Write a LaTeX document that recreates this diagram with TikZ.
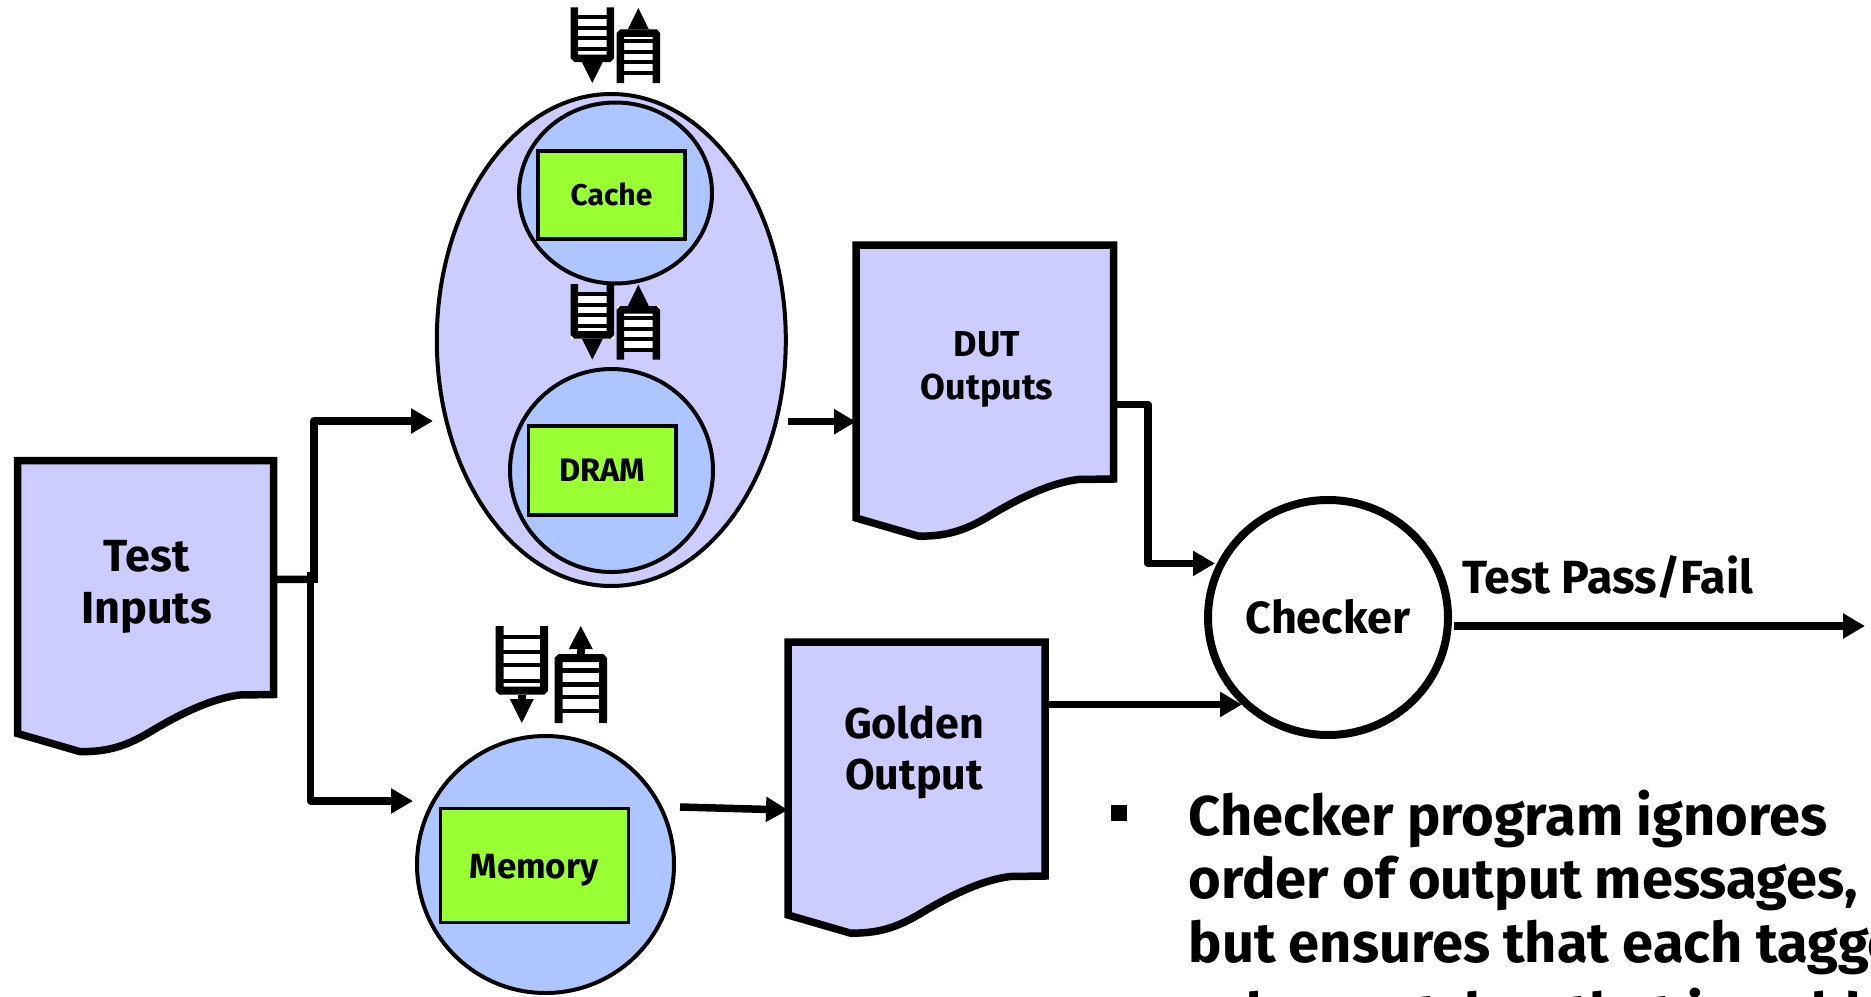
\documentclass[tikz,border=0pt]{standalone}
\usepackage{fontspec}
\setmainfont{Fira Sans}
\usetikzlibrary{shapes.geometric,arrows.meta}
\definecolor{docfill}{HTML}{CCCCFF}
\definecolor{circfill}{HTML}{ADC6FF}
\definecolor{boxfill}{HTML}{99FF33}
\tikzset{
  docline/.style={draw=black,fill=docfill,line width=7.5pt,line join=miter},
  docbox/.style={rectangle,draw=none,fill=none,anchor=north west,minimum width=257pt,minimum height=234pt,inner sep=0pt,outer sep=0pt},
  oval/.style={ellipse,draw=black,line width=4pt,inner sep=0pt,outer sep=0pt},
  unit/.style={rectangle,draw=black,fill=boxfill,line width=3.5pt,inner sep=0pt,outer sep=0pt},
  lab/.style={inner sep=0pt,outer sep=0pt,align=center,font=\bfseries\fontsize{#1}{#1}\selectfont},
  conn/.style={line width=7.5pt,line join=round,-{Triangle[length=22pt,width=24pt]}},
  plainconn/.style={line width=7.5pt,line join=round}
}
\newcommand\docshape[3]{%
  \begin{scope}[shift={(#1,#2)}]
    \draw[docline] (0,0) -- (#3,0) -- (#3,234) -- (222,234.5)
      .. controls (195,238) and (165,252) .. (135,270)
      .. controls (115,282) and (95,292) .. (62,291) -- (0,273) -- cycle;
  \end{scope}}
% #1 xl #2 xr #3 top #4 bot #5 tip #6 head base #7 rung list
\newcommand\qdown[7]{%
  \fill[white] (#1,#3+10) rectangle (#2,#4);
  \foreach \r in {#7} \draw[line width=\rungw pt] (#1,\r) -- (#2,\r);
  \draw[line width=\railw pt,rounded corners=1.5pt] (#1+\railw/2,#3) -- (#1+\railw/2,#4-\railw/2) -- (#2-\railw/2,#4-\railw/2) -- (#2-\railw/2,#3);
  \draw[line width=8pt] ({(#1+#2)/2},#4) -- ({(#1+#2)/2},#6+1);
  \fill ({(#1+#2)/2-\hw},#6) -- ({(#1+#2)/2+\hw},#6) -- ({(#1+#2)/2},#5) -- cycle;}
\newcommand\qup[7]{%
  \fill[white] (#1,#3) rectangle (#2,#4-10);
  \foreach \r in {#7} \draw[line width=\rungw pt] (#1,\r) -- (#2,\r);
  \draw[line width=\railw pt,rounded corners=1.5pt] (#1+\railw/2,#4) -- (#1+\railw/2,#3+\railw/2) -- (#2-\railw/2,#3+\railw/2) -- (#2-\railw/2,#4);
  \draw[line width=8pt] ({(#1+#2)/2},#3) -- ({(#1+#2)/2},#6-1);
  \fill ({(#1+#2)/2-\hw},#6) -- ({(#1+#2)/2+\hw},#6) -- ({(#1+#2)/2},#5) -- cycle;}
\begin{document}
\begin{tikzpicture}[x=1pt,y=-1pt]
\useasboundingbox (0,0) rectangle (1871,996);
\clip (0,0) rectangle (1871,996);
\fill[white] (0,0) rectangle (1871,996);
% documents
\docshape{17.5}{460.5}{256}
\docshape{856}{245}{257.5}
\docshape{788}{642}{257}
\node[docbox] (tin) at (17.5,460.5) {};
\node[docbox] (dut) at (856,245) {};
\node[docbox] (gold) at (788,642) {};
\node[lab=45] (tinlab) at (146.5,587) {Test\\[6.6pt]Inputs};
\node[lab=36] (dutlab) at (987,369.5) {DUT\\[6.6pt]Outputs};
\node[lab=43] (goldlab) at (914,752) {Golden\\[8pt]Output};
% cluster
\node[oval,fill=docfill,minimum width=349pt,minimum height=492pt] (cluster) at (611.3,340) {};
\node[oval,fill=circfill,minimum width=193pt,minimum height=181pt] (cachec) at (615.5,193) {};
\node[oval,fill=circfill,minimum width=203pt,minimum height=203pt] (dramc) at (611.5,470.5) {};
\node[oval,fill=circfill,minimum width=257pt,minimum height=257pt] (memc) at (545.5,864.5) {};
\node[unit,minimum width=147pt,minimum height=88pt] (cache) at (611.5,195) {};
\node[lab=30,anchor=base] at (611.5,205) {Cache};
\node[unit,minimum width=147.5pt,minimum height=89pt] (dram) at (602.2,470.5) {};
\node[lab=32.5,anchor=base] at (602.2,481.7) {DRAM};
\node[unit,minimum width=188pt,minimum height=114pt] (mem) at (534.5,865.5) {};
\node[lab=35,anchor=base] at (534,878) {Memory};
% queues
\def\railw{7.5}\def\rungw{3.5}\def\hw{10.5}
\qdown{570.7}{614}{7.3}{62}{83}{62}{17,28,38,49}
\qup{616.7}{660}{29.3}{83}{8}{29.3}{41,52,62,73}
\qdown{570.7}{614}{284}{338.7}{359.7}{338.7}{294,305,315,326}
\qup{616.7}{660}{306}{359.7}{284.7}{306}{318,329,339,350}
\def\railw{8}\def\rungw{4.5}\def\hw{12}
\qdown{495.5}{548}{626}{694.6}{723}{699}{637,652,665,681}
\qup{554.5}{607}{654}{723}{626}{649}{670.5,684.7,697,711}
% checker
\node[ellipse,draw=black,fill=white,line width=8pt,inner sep=0pt,outer sep=0pt,minimum width=240pt,minimum height=235pt] (chk) at (1328,617.5) {};
\node[lab=45,anchor=base] at (1328,633) {Checker};
% ports
\coordinate (cluin) at (433,421);
\coordinate (memin) at (413,801);
\coordinate (cluout) at (788,421.7);
\coordinate (memout) at (680,807);
\coordinate (chkin1) at (1215,563.4);
\coordinate (chkin2) at (1242,704.5);
\coordinate (chkout) at (1454,626);
\coordinate (resend) at (1865,626);
% connectors
\draw[plainconn] ([yshift=-119pt]tin.north east) -- (314,579.4);
\draw[conn] (314,583) -- (314,421) -- (cluin);
\draw[conn] (310.7,572) -- (310.7,801) -- (memin);
\draw[conn] (cluout) -- ([yshift=-176.7pt]dut.north west);
\draw[conn] (memout) -- ([yshift=-168pt]gold.north west);
\draw[conn] ([yshift=-159.5pt]dut.north east) -- (1148,404.5) -- (1148,563.4) -- (chkin1);
\draw[conn] ([yshift=-62.5pt]gold.north east) -- (chkin2);
\draw[conn] (chkout) -- (resend);
\node[lab=46.5,anchor=base west] (res) at (1462,593) {Test Pass/Fail};
% bullet text
\node[rectangle,fill=black,minimum width=16.5pt,minimum height=16pt,inner sep=0pt] (bul) at (1119,813) {};
\node[inner sep=0pt,outer sep=0pt,anchor=north west,align=left,font=\bfseries\fontsize{56}{63.3}\selectfont] (body) at (1188.6,790) {Checker program ignores\\order of output messages,\\but ensures that each tagged\\[8pt]value matches that in golden};
\end{tikzpicture}
\end{document}
